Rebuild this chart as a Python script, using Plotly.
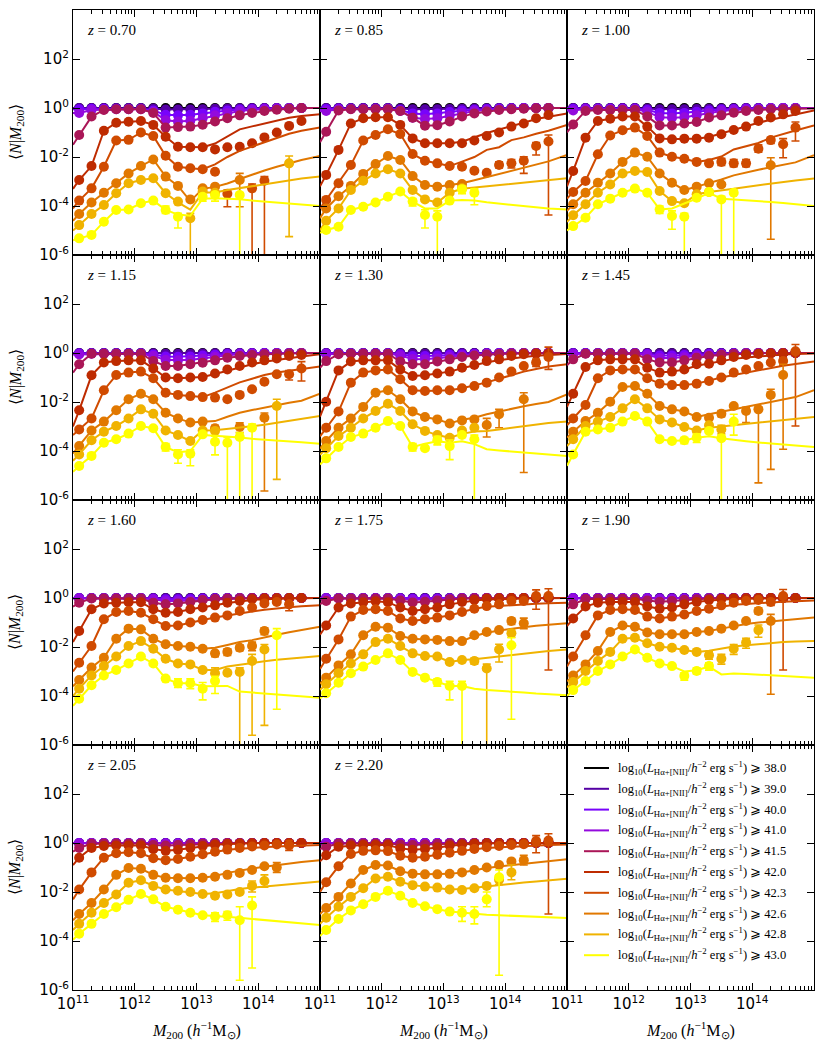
import plotly.graph_objects as go
from plotly.subplots import make_subplots

# ---------------- data (log10 <N|M200>) ----------------
GRID = [11.1, 11.3, 11.5, 11.7, 11.9, 12.1, 12.3, 12.5, 12.7, 12.9, 13.1, 13.3, 13.5, 13.7, 13.9, 14.1, 14.3, 14.5, 14.7]
LINE_LEFT = 11.0
LINE_RIGHT = 15.0
THRESH = ["38.0", "39.0", "40.0", "41.0", "41.5", "42.0", "42.3", "42.6", "42.8", "43.0"]
COLORS = ["#000000", "#5500a4", "#7803fb", "#930add", "#aa1657", "#be2b00", "#d04b00", "#e17800", "#f0b300", "#ffff00"]
REDSHIFTS = ["0.70", "0.85", "1.00", "1.15", "1.30", "1.45", "1.60", "1.75", "1.90", "2.05", "2.20"]
BLACK = [0, 0, 0, 0, 0, 0, 0, 0, 0, 0, 0, 0, 0, 0, 0, 0, 0, 0, 0]
N = None

P070 = {
    1: [0, 0, 0, 0, 0, 0, -0.02, -0.06, -0.06, -0.06, -0.05, -0.03, -0.02, -0.01, 0, 0, 0, 0, 0],
    2: [-0.05, -0.03, -0.03, -0.03, -0.03, -0.03, -0.1, -0.28, -0.3, -0.28, -0.22, -0.15, -0.1, -0.06, -0.04, -0.02, -0.01, 0, 0],
    3: [-0.2, -0.08, -0.06, -0.05, -0.05, -0.05, -0.15, -0.5, -0.55, -0.52, -0.42, -0.3, -0.2, -0.12, -0.07, -0.04, -0.02, -0.01, 0],
    4: [-1.1, -0.35, -0.08, -0.05, -0.05, -0.05, -0.2, -0.8, -0.78, -0.76, -0.68, -0.55, -0.42, -0.3, -0.2, -0.12, -0.07, -0.03, 0.0],
    5: [-2.94, -2.37, -0.93, -0.6, -0.56, -0.53, -0.69, -1.17, -1.58, -1.6, -1.6, -1.69, -1.6, -1.58, -1.44, -1.2, -1.0, -0.73, -0.53],
    6: [-3.78, -3.28, -2.4, -1.33, -1.3, -1.0, -1.14, -1.95, -2.4, -2.46, -2.5, -2.6, -3.5, N, -3.28, -2.97, N, N, N],
    7: [-4.33, -3.86, -3.46, -3.07, -2.67, -2.37, -2.1, -2.8, -3.18, -3.73, -3.28, -3.21, N, -2.94, N, N, N, N, N],
    8: [-4.78, -4.33, -3.96, -3.48, -3.07, -2.94, -2.87, -3.48, -3.82, -4.5, -3.41, -3.46, N, N, N, N, N, -2.26, N],
    9: [-5.32, -5.18, -4.64, -4.16, -4.14, -3.89, -3.78, -4.16, -4.44, N, -3.62, -3.55, N, -3.55, N, N, N, N, N],
}
L070 = {
    4: (-1.5, [-0.78, -0.76, -0.68, -0.55, -0.42, -0.3, -0.2, -0.12, -0.07, -0.03, 0.0, 0.0]),
    5: (-3.3, [-1.58, -1.6, -1.6, -1.45, -1.15, -0.87, -0.75, -0.63, -0.5, -0.4, -0.33, -0.26]),
    6: (-4.1, [-2.4, -2.46, -2.5, -2.3, -2.0, -1.75, -1.57, -1.4, -1.22, -1.05, -0.93, -0.8]),
    7: (-4.6, [-3.18, -3.8, -3.3, -3.22, -3.08, -2.9, -2.72, -2.55, -2.4, -2.25, -2.12, -1.96]),
    8: (-5.0, [-3.85, -4.15, -3.45, -3.45, -3.35, -3.27, -3.2, -3.12, -3.04, -2.96, -2.88, -2.8]),
    9: (-5.4, [-4.35, -4.4, -3.7, -3.68, -3.7, -3.72, -3.78, -3.82, -3.86, -3.9, -3.94, -4.0]),
}
E070 = {(6, 12): (-4.03, -3.35), (6, 14): (-7, -3.1), (6, 15): (-7, -2.8), (7, 13): (-4.03, -2.67),
        (8, 9): (-7, -4.3), (8, 17): (-5.25, -1.96), (9, 7): (-4.3, -4.0), (9, 8): (-4.9, -4.3),
        (9, 10): (-3.8, -3.5), (9, 11): (-3.8, -3.45), (9, 13): (-7, -3.45)}

P085 = {
    1: [0, 0, 0, 0, 0, 0, -0.02, -0.05, -0.05, -0.05, -0.04, -0.03, -0.02, -0.01, 0, 0, 0, 0, 0],
    2: [-0.04, -0.02, -0.02, -0.02, -0.02, -0.02, -0.08, -0.22, -0.25, -0.22, -0.16, -0.1, -0.07, -0.04, -0.02, -0.01, 0, 0, 0],
    3: [-0.12, -0.05, -0.04, -0.04, -0.04, -0.04, -0.12, -0.4, -0.45, -0.42, -0.32, -0.2, -0.12, -0.08, -0.05, -0.03, -0.01, 0, 0],
    4: [-0.97, -0.1, -0.05, -0.05, -0.05, -0.05, -0.12, -0.4, -0.72, -0.7, -0.55, -0.35, -0.22, -0.14, -0.08, -0.05, -0.03, -0.01, 0],
    5: [-2.73, -1.71, -0.63, -0.42, -0.38, -0.38, -0.69, -1.24, -1.44, -1.44, -1.44, -1.44, -1.33, -1.14, -1.0, -0.76, -0.63, -0.42, -0.29],
    6: [-3.75, -3.07, -2.33, -1.33, -1.1, -0.87, -1.06, -1.88, -2.15, -2.26, -2.37, -2.4, -2.56, -2.64, -2.33, -2.26, -2.15, -1.55, -1.37],
    7: [-4.1, -3.6, -3.18, -2.69, -2.29, -1.96, -2.12, -2.78, -3.14, -3.21, -3.14, -3.1, N, N, N, N, N, N, N],
    8: [-4.6, -4.1, -3.35, -2.97, -2.67, -2.5, -2.67, -3.35, -3.73, -3.86, -3.46, -3.28, N, N, N, N, N, N, N],
    9: [-4.98, -4.85, -4.16, -4.03, -3.86, -3.62, -3.41, -3.82, -4.37, -4.44, -3.78, -3.32, -3.46, N, N, N, N, N, N],
}
L085 = {
    4: (-1.4, [-0.72, -0.7, -0.55, -0.35, -0.22, -0.14, -0.08, -0.05, -0.03, -0.01, 0, 0]),
    5: (-3.2, [-1.44, -1.44, -1.44, -1.38, -1.2, -1.02, -0.88, -0.75, -0.6, -0.45, -0.35, -0.22]),
    6: (-4.1, [-2.15, -2.26, -2.37, -2.19, -2.0, -1.71, -1.6, -1.31, -1.2, -1.05, -0.93, -0.69]),
    7: (-4.5, [-3.14, -3.21, -3.14, -3.07, -2.95, -2.82, -2.7, -2.55, -2.42, -2.3, -2.18, -1.92]),
    8: (-5.0, [-3.73, -3.86, -3.46, -3.3, -3.25, -3.2, -3.15, -3.1, -3.05, -3.0, -2.95, -2.87]),
    9: (-5.1, [-4.1, -4.1, -3.78, -3.75, -3.78, -3.85, -3.9, -3.95, -4.0, -4.05, -4.1, -4.14]),
}
E085 = {(6, 14): (-2.45, -2.2), (6, 15): (-2.45, -2.1), (6, 16): (-2.67, -1.99), (6, 17): (-1.92, -1.41),
        (6, 18): (-4.37, -1.1), (9, 7): (-4.0, -3.7), (9, 8): (-4.9, -4.15), (9, 9): (-7, -4.2),
        (9, 11): (-3.5, -3.2), (9, 12): (-3.95, -3.3)}

P100 = {
    1: [0, 0, 0, 0, 0, 0, -0.02, -0.05, -0.05, -0.05, -0.04, -0.03, -0.02, -0.01, 0, 0, 0, 0, 0],
    2: [-0.03, -0.02, -0.02, -0.02, -0.02, -0.02, -0.08, -0.2, -0.22, -0.2, -0.15, -0.1, -0.06, -0.04, -0.02, -0.01, 0, 0, 0],
    3: [-0.1, -0.04, -0.04, -0.04, -0.04, -0.04, -0.15, -0.38, -0.4, -0.38, -0.3, -0.2, -0.12, -0.08, -0.05, -0.03, -0.01, 0, 0],
    4: [-0.67, -0.12, -0.08, -0.08, -0.08, -0.08, -0.35, -0.71, -0.71, -0.63, -0.57, -0.39, -0.3, -0.19, -0.12, -0.08, -0.05, -0.05, -0.03],
    5: [-2.57, -1.21, -0.53, -0.44, -0.35, -0.35, -0.76, -1.24, -1.28, -1.25, -1.25, -1.21, -1.07, -0.9, -0.76, -0.53, -0.39, -0.26, -0.12],
    6: [-3.43, -2.98, -1.89, -1.12, -0.91, -0.8, -1.14, -1.82, -1.99, -2.07, -2.2, -2.26, -2.2, -2.26, -2.26, -1.66, -1.31, -1.48, -0.8],
    7: [-3.93, -3.46, -3.05, -2.67, -2.2, -1.82, -1.99, -2.67, -3.05, -3.35, -3.21, -3.07, -3.12, N, N, N, -2.34, N, N],
    8: [-4.38, -3.93, -3.46, -3.12, -2.67, -2.57, -2.61, -3.39, -3.8, -3.89, -3.52, -3.43, N, N, N, N, N, N, N],
    9: [-4.82, -4.48, -3.93, -3.7, -3.46, -3.29, -3.46, -4.14, -4.41, -4.44, -3.66, -3.43, -3.73, -3.46, N, N, N, N, N],
}
L100 = {
    4: (-1.0, [-0.71, -0.63, -0.57, -0.39, -0.3, -0.19, -0.12, -0.08, -0.05, -0.04, -0.03, -0.02]),
    5: (-3.2, [-1.28, -1.25, -1.25, -1.18, -1.03, -0.88, -0.74, -0.6, -0.48, -0.37, -0.28, -0.1]),
    6: (-3.7, [-1.99, -2.07, -2.2, -2.12, -1.98, -1.69, -1.56, -1.43, -1.21, -1.05, -0.92, -0.71]),
    7: (-4.2, [-3.05, -3.35, -3.21, -3.07, -2.92, -2.75, -2.62, -2.52, -2.42, -2.32, -2.22, -1.93]),
    8: (-4.65, [-3.8, -3.89, -3.52, -3.43, -3.38, -3.3, -3.22, -3.15, -3.08, -3.02, -2.96, -2.88]),
    9: (-5.0, [-4.1, -3.9, -3.7, -3.46, -3.7, -3.73, -3.76, -3.8, -3.84, -3.88, -3.92, -4.0]),
}
E100 = {(6, 12): (-2.35, -2.05), (6, 13): (-2.4, -2.1), (6, 14): (-2.4, -2.1), (6, 15): (-1.8, -1.5),
        (6, 16): (-1.45, -1.2), (6, 17): (-2.03, -1.25), (6, 18): (-1.35, -0.57), (7, 16): (-5.36, -2.03),
        (9, 7): (-4.3, -4.0), (9, 8): (-4.95, -4.2), (9, 9): (-7, -4.3), (9, 12): (-7, -3.6), (9, 13): (-7, -3.35)}

P115 = {
    1: [0, 0, 0, 0, 0, 0, -0.01, -0.03, -0.03, -0.03, -0.02, -0.01, 0, 0, 0, 0, 0, 0, 0],
    2: [-0.02, -0.01, -0.01, -0.01, -0.01, -0.01, -0.06, -0.14, -0.15, -0.14, -0.1, -0.07, -0.04, -0.02, -0.01, 0, 0, 0, 0],
    3: [-0.06, -0.03, -0.03, -0.03, -0.03, -0.03, -0.12, -0.28, -0.3, -0.28, -0.22, -0.15, -0.09, -0.05, -0.03, -0.02, -0.01, 0, 0],
    4: [-0.46, -0.03, -0.03, -0.03, -0.03, -0.03, -0.33, -0.53, -0.53, -0.46, -0.4, -0.3, -0.19, -0.12, -0.08, -0.05, -0.03, -0.02, -0.01],
    5: [-2.34, -0.91, -0.39, -0.33, -0.3, -0.3, -0.63, -1.0, -1.03, -1.0, -0.98, -0.84, -0.67, -0.53, -0.39, -0.3, -0.22, -0.12, -0.08],
    6: [-3.12, -2.67, -1.52, -0.9, -0.8, -0.76, -1.03, -1.62, -1.71, -1.76, -1.8, -1.82, -1.89, -1.71, -1.48, -1.17, -0.87, -0.87, -0.63],
    7: [-3.8, -3.16, -2.8, -2.34, -1.89, -1.66, -1.89, -2.44, -2.67, -2.84, -2.8, -3.07, N, -3.02, N, -2.64, N, N, N],
    8: [-4.14, -3.56, -3.21, -2.98, -2.67, -2.3, -2.48, -3.16, -3.35, -3.59, -3.16, -3.18, N, N, N, N, -2.16, N, N],
    9: [-4.61, -4.2, -3.66, -3.52, -3.29, -2.98, -3.07, -3.84, -4.14, -4.11, -3.32, -3.62, -3.66, -3.43, -3.05, N, N, N, N],
}
L115 = {
    4: (-0.8, [-0.53, -0.46, -0.4, -0.3, -0.19, -0.12, -0.08, -0.05, -0.03, -0.02, -0.01, 0]),
    5: (-3.0, [-1.03, -1.0, -0.98, -0.86, -0.72, -0.58, -0.46, -0.36, -0.28, -0.2, -0.14, -0.05]),
    6: (-3.35, [-1.71, -1.76, -1.8, -1.62, -1.4, -1.2, -1.05, -0.9, -0.8, -0.72, -0.65, -0.55]),
    7: (-4.1, [-2.67, -2.84, -2.8, -2.78, -2.6, -2.44, -2.33, -2.22, -2.12, -2.03, -1.95, -1.66]),
    8: (-4.4, [-3.35, -3.59, -3.16, -3.15, -3.1, -3.05, -3.0, -2.93, -2.85, -2.77, -2.7, -2.57]),
    9: (-4.85, [-4.05, -4.0, -3.35, -3.38, -3.4, -3.45, -3.5, -3.53, -3.57, -3.6, -3.64, -3.7]),
}
E115 = {(6, 17): (-1.1, -0.72), (6, 18): (-1.14, -0.35), (7, 11): (-3.2, -2.95), (7, 13): (-3.25, -2.85),
        (7, 15): (-5.63, -2.45), (8, 16): (-5.16, -1.89), (9, 7): (-4.0, -3.7), (9, 8): (-4.5, -3.95),
        (9, 9): (-4.6, -3.95), (9, 11): (-4.16, -3.4), (9, 12): (-7, -3.45), (9, 13): (-7, -3.25), (9, 14): (-7, -2.9)}

P130 = {
    1: [0, 0, 0, 0, 0, 0, -0.01, -0.02, -0.02, -0.02, -0.01, 0, 0, 0, 0, 0, 0, 0, 0],
    2: [-0.02, -0.01, -0.01, -0.01, -0.01, -0.01, -0.05, -0.12, -0.12, -0.1, -0.07, -0.05, -0.03, -0.01, 0, 0, 0, 0, 0],
    3: [-0.05, -0.02, -0.02, -0.02, -0.02, -0.02, -0.1, -0.24, -0.25, -0.22, -0.16, -0.1, -0.06, -0.03, -0.02, -0.01, 0, 0, 0],
    4: [-0.33, -0.05, -0.03, -0.03, -0.03, -0.03, -0.35, -0.46, -0.46, -0.35, -0.26, -0.16, -0.1, -0.06, -0.04, -0.02, -0.01, 0, 0],
    5: [-1.99, -0.71, -0.35, -0.3, -0.3, -0.3, -0.67, -0.94, -0.91, -0.84, -0.76, -0.6, -0.49, -0.33, -0.26, -0.12, -0.05, -0.03, -0.03],
    6: [-3.05, -2.39, -1.21, -0.8, -0.71, -0.67, -1.07, -1.52, -1.55, -1.52, -1.52, -1.44, -1.35, -1.21, -1.0, -0.76, -0.53, -0.39, -0.16],
    7: [-3.59, -3.05, -2.67, -2.2, -1.62, -1.52, -1.89, -2.39, -2.61, -2.71, -2.88, -2.75, -2.71, -2.94, -2.5, N, -1.89, N, N],
    8: [-3.89, -3.39, -3.05, -2.67, -2.37, -2.07, -2.37, -2.91, -3.18, -3.35, -3.46, -3.16, -3.05, N, N, N, N, N, N],
    9: [-4.3, -3.84, -3.43, -3.29, -3.05, -2.78, -2.98, -3.84, -3.89, -3.56, -3.8, -3.35, -3.52, N, N, N, N, N, N],
}
L130 = {
    4: (-0.6, [-0.46, -0.35, -0.26, -0.16, -0.1, -0.06, -0.04, -0.02, -0.01, 0, 0, 0]),
    5: (-2.6, [-0.91, -0.84, -0.76, -0.62, -0.5, -0.38, -0.3, -0.22, -0.16, -0.11, -0.08, -0.04]),
    6: (-3.4, [-1.55, -1.52, -1.52, -1.44, -1.33, -1.2, -1.05, -0.9, -0.76, -0.65, -0.55, -0.46]),
    7: (-3.9, [-2.61, -2.71, -2.88, -2.72, -2.64, -2.5, -2.38, -2.27, -2.17, -2.08, -2.0, -1.69]),
    8: (-4.15, [-3.18, -3.35, -3.46, -3.3, -3.2, -3.18, -3.12, -3.05, -2.98, -2.92, -2.86, -2.8]),
    9: (-4.55, [-3.7, -3.6, -3.66, -3.6, -3.72, -3.93, -3.98, -4.03, -4.07, -4.1, -4.14, -4.2]),
}
E130 = {(6, 17): (-0.55, -0.25), (6, 18): (-0.67, 0.24), (7, 13): (-3.43, -2.67), (7, 14): (-3.05, -2.3),
        (7, 16): (-4.88, -1.62), (9, 7): (-4.0, -3.7), (9, 9): (-3.75, -3.4), (9, 10): (-4.35, -3.55),
        (9, 12): (-7, -3.35)}

P145 = {
    1: [0, 0, 0, 0, 0, 0, 0, -0.01, -0.01, -0.01, 0, 0, 0, 0, 0, 0, 0, 0, 0],
    2: [-0.01, 0, 0, 0, 0, 0, -0.04, -0.1, -0.1, -0.08, -0.05, -0.03, -0.02, -0.01, 0, 0, 0, 0, 0],
    3: [-0.04, -0.02, -0.02, -0.02, -0.02, -0.02, -0.08, -0.2, -0.2, -0.17, -0.12, -0.07, -0.04, -0.02, -0.01, 0, 0, 0, 0],
    4: [-0.26, -0.03, -0.02, -0.02, -0.02, -0.02, -0.26, -0.39, -0.39, -0.3, -0.19, -0.12, -0.07, -0.04, -0.02, -0.01, 0, 0, 0],
    5: [-1.66, -0.57, -0.3, -0.26, -0.26, -0.26, -0.6, -0.8, -0.76, -0.67, -0.46, -0.44, -0.3, -0.16, -0.08, -0.04, -0.02, -0.01, 0],
    6: [-2.67, -2.12, -1.03, -0.71, -0.67, -0.67, -1.03, -1.25, -1.31, -1.31, -1.25, -1.14, -1.0, -0.8, -0.67, -0.53, -0.39, -0.33, 0.07],
    7: [-3.21, -2.78, -2.44, -1.99, -1.39, -1.35, -1.66, -2.16, -2.3, -2.39, -2.61, -2.64, -2.48, -2.16, -2.37, -2.3, -1.71, -0.9, N],
    8: [-3.52, -2.98, -2.8, -2.61, -2.26, -1.89, -2.26, -2.71, -2.84, -3.02, -3.16, -2.95, -3.12, N, N, N, N, N, N],
    9: [-4.14, -3.21, -3.12, -3.05, -2.8, -2.57, -2.8, -3.52, -3.59, -3.56, -3.46, -3.18, -3.48, -2.8, N, N, N, N, N],
}
L145 = {
    4: (-0.5, [-0.39, -0.3, -0.19, -0.12, -0.07, -0.04, -0.02, -0.01, 0, 0, 0, 0]),
    5: (-2.2, [-0.76, -0.67, -0.52, -0.42, -0.32, -0.24, -0.18, -0.13, -0.09, -0.06, -0.04, -0.02]),
    6: (-2.95, [-1.31, -1.31, -1.25, -1.12, -1.0, -0.9, -0.8, -0.7, -0.6, -0.52, -0.45, -0.35]),
    7: (-3.45, [-2.3, -2.39, -2.61, -2.5, -2.4, -2.3, -2.2, -2.1, -2.0, -1.9, -1.8, -1.52]),
    8: (-3.8, [-2.84, -3.02, -3.16, -3.05, -3.0, -2.95, -2.9, -2.84, -2.78, -2.72, -2.67, -2.61]),
    9: (-4.6, [-3.59, -3.56, -3.46, -3.4, -3.48, -3.55, -3.6, -3.65, -3.7, -3.74, -3.78, -3.84]),
}
E145 = {(6, 17): (-0.5, -0.2), (6, 18): (-2.98, 0.35), (7, 12): (-2.6, -2.35), (7, 14): (-2.84, -2.22),
        (7, 15): (-5.3, -2.2), (7, 16): (-4.75, -1.48), (7, 17): (-3.93, -0.46), (8, 12): (-3.3, -2.95),
        (9, 9): (-3.7, -3.45), (9, 10): (-3.65, -3.3), (9, 12): (-7, -3.35), (9, 13): (-3.35, -2.5)}

P160 = {
    1: [0, 0, 0, 0, 0, 0, 0, 0, 0, 0, 0, 0, 0, 0, 0, 0, 0, 0, 0],
    2: [0, 0, 0, 0, 0, 0, -0.02, -0.05, -0.05, -0.04, -0.02, -0.01, 0, 0, 0, 0, 0, 0, 0],
    3: [-0.02, -0.01, -0.01, -0.01, -0.01, -0.01, -0.05, -0.12, -0.12, -0.1, -0.06, -0.03, -0.02, -0.01, 0, 0, 0, 0, 0],
    4: [-0.19, -0.02, -0.02, -0.02, -0.02, -0.02, -0.19, -0.26, -0.22, -0.16, -0.08, -0.04, -0.02, -0.01, 0, 0, 0, 0, 0],
    5: [-1.35, -0.46, -0.22, -0.19, -0.17, -0.17, -0.46, -0.6, -0.57, -0.46, -0.39, -0.3, -0.19, -0.12, -0.05, -0.02, -0.01, 0, 0],
    6: [-2.64, -1.96, -0.87, -0.57, -0.53, -0.6, -0.87, -1.14, -1.12, -1.0, -0.9, -0.8, -0.71, -0.53, -0.39, -0.22, -0.16, -0.26, N],
    7: [-3.35, -2.84, -2.44, -1.66, -1.25, -1.28, -1.66, -1.89, -1.96, -1.99, -2.07, -2.26, -2.2, -2.03, -1.96, -1.35, N, N, N],
    8: [-3.7, -3.16, -2.78, -2.39, -1.96, -1.76, -2.07, -2.48, -2.67, -2.71, -2.94, -3.07, -3.05, -3.02, -2.57, -2.1, N, N, N],
    9: [-4.11, -3.56, -3.16, -2.94, -2.67, -2.39, -2.67, -3.29, -3.48, -3.48, -3.7, -3.39, N, N, N, N, -1.52, N, N],
}
L160 = {
    4: (-0.35, [-0.22, -0.16, -0.08, -0.04, -0.02, -0.01, 0, 0, 0, 0, 0, 0]),
    5: (-1.8, [-0.57, -0.46, -0.39, -0.3, -0.2, -0.13, -0.08, -0.05, -0.03, -0.02, -0.01, 0]),
    6: (-3.0, [-1.12, -1.0, -0.9, -0.8, -0.71, -0.62, -0.55, -0.48, -0.42, -0.38, -0.34, -0.3]),
    7: (-3.6, [-1.96, -1.99, -2.07, -2.03, -1.92, -1.8, -1.72, -1.6, -1.5, -1.4, -1.3, -1.17]),
    8: (-4.0, [-2.67, -2.71, -2.94, -2.94, -2.8, -2.72, -2.65, -2.58, -2.52, -2.47, -2.42, -2.37]),
    9: (-4.4, [-3.48, -3.48, -3.6, -3.59, -3.59, -3.82, -3.86, -3.9, -3.94, -3.98, -4.02, -4.07]),
}
E160 = {(6, 17): (-0.52, -0.15), (7, 11): (-2.4, -2.15), (7, 12): (-2.35, -2.08), (7, 13): (-2.15, -1.92),
        (7, 14): (-2.15, -1.8), (7, 15): (-1.5, -1.22), (8, 11): (-3.3, -2.85), (8, 13): (-7, -2.85),
        (8, 14): (-5.6, -2.3), (8, 15): (-5.2, -1.9), (9, 8): (-3.65, -3.3), (9, 9): (-3.7, -3.3),
        (9, 10): (-4.16, -3.45), (9, 11): (-3.9, -3.2), (9, 16): (-4.54, -1.25)}

P175 = {
    1: [0, 0, 0, 0, 0, 0, 0, 0, 0, 0, 0, 0, 0, 0, 0, 0, 0, 0, 0],
    2: [0, 0, 0, 0, 0, 0, -0.01, -0.03, -0.03, -0.02, -0.01, 0, 0, 0, 0, 0, 0, 0, 0],
    3: [-0.02, -0.01, -0.01, -0.01, -0.01, -0.01, -0.03, -0.07, -0.07, -0.05, -0.03, -0.01, 0, 0, 0, 0, 0, 0, 0],
    4: [-0.12, -0.02, -0.02, -0.02, -0.02, -0.02, -0.1, -0.18, -0.15, -0.1, -0.05, -0.02, -0.01, 0, 0, 0, 0, 0, 0],
    5: [-1.12, -0.39, -0.22, -0.17, -0.13, -0.17, -0.39, -0.53, -0.46, -0.39, -0.26, -0.16, -0.08, -0.03, -0.01, 0, 0, 0, 0],
    6: [-2.48, -1.69, -0.76, -0.49, -0.46, -0.53, -0.84, -0.94, -0.87, -0.8, -0.71, -0.57, -0.44, -0.33, -0.26, -0.12, -0.12, 0.08, 0.08],
    7: [-3.25, -2.75, -2.3, -1.52, -1.17, -1.21, -1.55, -1.66, -1.69, -1.71, -1.76, -1.76, -1.52, -1.39, -1.31, -0.94, -1.03, N, N],
    8: [-3.52, -3.07, -2.67, -2.3, -1.8, -1.66, -1.96, -2.26, -2.37, -2.39, -2.61, -2.53, -2.57, -2.88, -2.1, -1.44, N, N, N],
    9: [-3.89, -3.46, -3.07, -2.8, -2.53, -2.26, -2.53, -3.02, -3.25, -3.43, -3.59, -3.59, N, N, N, -1.93, N, N, N],
}
L175 = {
    4: (-0.25, [-0.15, -0.1, -0.05, -0.02, -0.01, 0, 0, 0, 0, 0, 0, 0]),
    5: (-1.5, [-0.46, -0.39, -0.26, -0.17, -0.1, -0.06, -0.04, -0.03, -0.02, -0.01, -0.01, 0]),
    6: (-2.9, [-0.87, -0.8, -0.71, -0.57, -0.44, -0.36, -0.32, -0.28, -0.25, -0.23, -0.21, -0.19]),
    7: (-3.5, [-1.69, -1.71, -1.76, -1.76, -1.55, -1.42, -1.33, -1.25, -1.19, -1.13, -1.08, -1.03]),
    8: (-3.75, [-2.37, -2.39, -2.61, -2.53, -2.5, -2.44, -2.38, -2.32, -2.26, -2.21, -2.16, -2.1]),
    9: (-4.1, [-3.25, -3.43, -3.59, -3.59, -3.7, -3.75, -3.78, -3.82, -3.86, -3.9, -3.93, -3.97]),
}
E175 = {(6, 17): (-0.46, 0.33), (6, 18): (-2.94, 0.38), (7, 15): (-1.08, -0.82), (7, 16): (-1.25, -0.82),
        (8, 12): (-2.7, -2.45), (8, 13): (-7, -2.7), (8, 14): (-2.61, -1.89), (8, 15): (-1.6, -1.3),
        (9, 9): (-3.6, -3.3), (9, 10): (-4.16, -3.4), (9, 11): (-7, -3.4), (9, 15): (-4.95, -1.62)}

P190 = {
    1: [0, 0, 0, 0, 0, 0, 0, 0, 0, 0, 0, 0, 0, 0, 0, 0, 0, 0, 0],
    2: [0, 0, 0, 0, 0, 0, 0, -0.02, -0.02, -0.01, 0, 0, 0, 0, 0, 0, 0, 0, 0],
    3: [-0.02, -0.01, -0.01, -0.01, -0.01, -0.01, -0.02, -0.04, -0.04, -0.03, -0.02, -0.01, 0, 0, 0, 0, 0, 0, 0],
    4: [-0.26, -0.04, -0.03, -0.03, -0.03, -0.03, -0.1, -0.15, -0.12, -0.08, -0.05, -0.02, -0.01, 0, 0, 0, 0, 0, 0],
    5: [-0.84, -0.35, -0.19, -0.16, -0.16, -0.16, -0.35, -0.44, -0.39, -0.26, -0.16, -0.08, -0.04, -0.02, -0.01, 0, 0, 0, 0],
    6: [-2.39, -1.52, -0.71, -0.49, -0.46, -0.49, -0.76, -0.84, -0.76, -0.67, -0.53, -0.44, -0.3, -0.19, -0.12, -0.08, -0.16, 0.08, N],
    7: [-3.16, -2.71, -2.16, -1.39, -1.12, -1.17, -1.41, -1.48, -1.48, -1.48, -1.39, -1.35, -1.25, -1.12, -0.94, -0.53, -0.94, N, N],
    8: [-3.43, -2.98, -2.57, -2.2, -1.66, -1.62, -1.85, -1.99, -2.03, -2.12, -2.2, -2.34, -2.48, -2.07, -1.82, -1.31, N, N, N],
    9: [-3.76, -3.39, -2.98, -2.71, -2.39, -2.1, -2.44, -2.67, -2.78, -3.18, -2.98, -2.78, N, N, N, N, N, N, N],
}
L190 = {
    4: (-0.45, [-0.12, -0.08, -0.05, -0.02, -0.01, 0, 0, 0, 0, 0, 0, 0]),
    5: (-1.15, [-0.39, -0.26, -0.16, -0.1, -0.06, -0.04, -0.03, -0.02, -0.01, -0.01, 0, 0]),
    6: (-2.8, [-0.76, -0.67, -0.53, -0.44, -0.34, -0.28, -0.24, -0.2, -0.17, -0.15, -0.13, -0.1]),
    7: (-3.4, [-1.48, -1.48, -1.39, -1.35, -1.25, -1.14, -1.06, -1.0, -0.95, -0.9, -0.86, -0.8]),
    8: (-3.65, [-2.03, -2.12, -2.2, -2.15, -2.05, -1.98, -1.93, -1.88, -1.84, -1.8, -1.78, -1.76]),
    9: (-4.0, [-2.78, -3.0, -2.95, -2.8, -3.12, -3.08, -3.1, -3.13, -3.16, -3.19, -3.22, -3.25]),
}
E190 = {(6, 16): (-0.3, -0.05), (6, 17): (-2.94, 0.35), (7, 15): (-0.65, -0.4), (7, 16): (-3.93, -0.67),
        (8, 11): (-2.5, -2.2), (8, 12): (-2.7, -2.3), (8, 13): (-2.3, -1.9), (8, 14): (-2.05, -1.65),
        (8, 15): (-1.6, -1.1), (9, 9): (-3.35, -3.05), (9, 10): (-3.1, -2.85), (9, 11): (-2.95, -2.65)}

P205 = {
    1: [0, 0, 0, 0, 0, 0, 0, 0, 0, 0, 0, 0, 0, 0, 0, 0, 0, 0, 0],
    2: [0, 0, 0, 0, 0, 0, 0, -0.01, -0.01, 0, 0, 0, 0, 0, 0, 0, 0, 0, 0],
    3: [-0.01, 0, 0, 0, 0, 0, -0.01, -0.02, -0.02, -0.01, 0, 0, 0, 0, 0, 0, 0, 0, 0],
    4: [-0.2, -0.03, -0.02, -0.02, -0.02, -0.02, -0.08, -0.1, -0.08, -0.05, -0.03, -0.01, 0, 0, 0, 0, 0, 0, 0],
    5: [-0.6, -0.2, -0.12, -0.1, -0.1, -0.1, -0.25, -0.32, -0.28, -0.2, -0.12, -0.07, -0.04, -0.02, -0.01, 0, 0, 0, 0],
    6: [-1.9, -1.2, -0.6, -0.42, -0.38, -0.42, -0.62, -0.7, -0.65, -0.56, -0.46, -0.36, -0.27, -0.2, -0.14, -0.1, -0.06, -0.1, N],
    7: [-2.9, -2.45, -1.9, -1.3, -1.02, -1.05, -1.3, -1.42, -1.44, -1.44, -1.42, -1.38, -1.3, -1.22, -1.1, -0.95, -1.0, N, N],
    8: [-3.3, -2.85, -2.45, -2.1, -1.62, -1.52, -1.75, -1.9, -1.95, -2.0, -2.08, -2.15, -2.1, -2.0, -1.75, -1.55, N, N, N],
    9: [-3.7, -3.3, -2.9, -2.62, -2.32, -2.08, -2.3, -2.6, -2.72, -2.85, -2.95, -3.0, -2.95, -3.15, -2.55, N, N, N, N],
}
L205 = {
    4: (-0.35, [-0.08, -0.05, -0.03, -0.01, 0, 0, 0, 0, 0, 0, 0, 0]),
    5: (-0.9, [-0.28, -0.2, -0.12, -0.07, -0.04, -0.02, -0.01, 0, 0, 0, 0, 0]),
    6: (-2.3, [-0.65, -0.56, -0.46, -0.36, -0.28, -0.23, -0.19, -0.16, -0.14, -0.12, -0.1, -0.08]),
    7: (-3.15, [-1.44, -1.44, -1.42, -1.35, -1.22, -1.12, -1.04, -0.97, -0.9, -0.84, -0.78, -0.7]),
    8: (-3.55, [-1.95, -2.0, -2.08, -2.05, -1.95, -1.88, -1.82, -1.77, -1.72, -1.67, -1.63, -1.57]),
    9: (-3.95, [-2.72, -2.85, -2.95, -2.98, -3.0, -3.05, -3.1, -3.14, -3.18, -3.22, -3.27, -3.35]),
}
E205 = {(6, 17): (-0.3, 0.1), (7, 16): (-1.2, -0.8), (8, 14): (-2.0, -1.55), (8, 15): (-1.8, -1.3),
        (9, 11): (-3.2, -2.85), (9, 12): (-3.15, -2.8), (9, 13): (-5.6, -2.6), (9, 14): (-5.1, -2.2)}

P220 = {
    1: [0, 0, 0, 0, 0, 0, 0, 0, 0, 0, 0, 0, 0, 0, 0, 0, 0, 0, 0],
    2: [0, 0, 0, 0, 0, 0, 0, 0, 0, 0, 0, 0, 0, 0, 0, 0, 0, 0, 0],
    3: [-0.01, 0, 0, 0, 0, 0, 0, -0.01, -0.01, 0, 0, 0, 0, 0, 0, 0, 0, 0, 0],
    4: [-0.15, -0.02, -0.02, -0.02, -0.02, -0.02, -0.06, -0.08, -0.06, -0.04, -0.02, -0.01, 0, 0, 0, 0, 0, 0, 0],
    5: [-0.5, -0.15, -0.1, -0.08, -0.08, -0.08, -0.22, -0.28, -0.24, -0.17, -0.1, -0.06, -0.03, -0.01, 0, 0, 0, 0, 0],
    6: [-1.6, -0.95, -0.45, -0.32, -0.3, -0.33, -0.52, -0.6, -0.56, -0.48, -0.4, -0.32, -0.24, -0.17, -0.12, -0.08, -0.05, 0.08, 0.1],
    7: [-2.65, -2.2, -1.65, -1.1, -0.9, -0.92, -1.15, -1.25, -1.28, -1.28, -1.26, -1.2, -1.1, -1.0, -0.9, -0.75, -0.7, N, N],
    8: [-3.05, -2.6, -2.2, -1.85, -1.45, -1.38, -1.58, -1.72, -1.78, -1.82, -1.9, -1.92, -1.85, -1.75, -1.5, -1.2, N, N, N],
    9: [-3.55, -3.1, -2.75, -2.5, -2.2, -1.95, -2.15, -2.45, -2.58, -2.7, -2.8, -2.85, -2.9, -2.3, -1.4, N, N, N, N],
}
L220 = {
    4: (-0.25, [-0.06, -0.04, -0.02, -0.01, 0, 0, 0, 0, 0, 0, 0, 0]),
    5: (-0.75, [-0.24, -0.17, -0.1, -0.06, -0.03, -0.01, 0, 0, 0, 0, 0, 0]),
    6: (-2.0, [-0.56, -0.48, -0.4, -0.32, -0.25, -0.2, -0.17, -0.14, -0.12, -0.1, -0.08, -0.06]),
    7: (-2.9, [-1.28, -1.28, -1.26, -1.2, -1.1, -1.02, -0.96, -0.9, -0.84, -0.79, -0.74, -0.66]),
    8: (-3.3, [-1.78, -1.82, -1.9, -1.88, -1.82, -1.76, -1.7, -1.65, -1.61, -1.57, -1.53, -1.46]),
    9: (-3.8, [-2.58, -2.7, -2.8, -2.85, -2.9, -2.93, -2.95, -2.97, -2.99, -3.01, -3.03, -3.06]),
}
E220 = {(6, 17): (-0.4, 0.3), (6, 18): (-2.9, 0.38), (7, 16): (-0.9, -0.5), (8, 14): (-1.7, -1.3),
        (8, 15): (-1.5, -0.9), (9, 11): (-3.2, -2.6), (9, 12): (-3.3, -2.6), (9, 13): (-2.6, -2.0),
        (9, 14): (-5.4, -1.1)}

PANELS = [(P070, L070, E070), (P085, L085, E085), (P100, L100, E100), (P115, L115, E115),
          (P130, L130, E130), (P145, L145, E145), (P160, L160, E160), (P175, L175, E175),
          (P190, L190, E190), (P205, L205, E205), (P220, L220, E220)]

# ---------------- figure ----------------
W, H = 822, 1047
ML, MR, MT, MB = 73, 8, 10, 57
PW, PH = W - ML - MR, H - MT - MB
fig = make_subplots(rows=4, cols=3, horizontal_spacing=0, vertical_spacing=0)

LX = [LINE_LEFT] + GRID + [LINE_RIGHT]
for p, (pts, lines, errs) in enumerate(PANELS):
    r, c = p // 3 + 1, p % 3 + 1
    for s in range(10):
        col = COLORS[s]
        y = BLACK if s == 0 else pts[s]
        if s >= 4:
            head, tail = lines[s]
            ly = [head] + y[:8] + tail
        else:
            ly = [y[0]] + y + [y[-1]]
        fig.add_trace(go.Scatter(x=[10 ** v for v in LX], y=[10 ** v for v in ly], mode="lines",
                                 line=dict(color=col, width=2), showlegend=False, hoverinfo="skip"),
                      row=r, col=c)
        px, py, ex, ey, ep, em = [], [], [], [], [], []
        for k, v in enumerate(y):
            if v is None:
                continue
            if (s, k) in errs:
                lo, hi = errs[(s, k)]
                ex.append(10 ** GRID[k]); ey.append(10 ** v)
                ep.append(10 ** hi - 10 ** v); em.append(10 ** v - 10 ** lo)
            else:
                px.append(10 ** GRID[k]); py.append(10 ** v)
        fig.add_trace(go.Scatter(x=px, y=py, mode="markers", marker=dict(color=col, size=10, line=dict(width=0)),
                                 showlegend=False, hoverinfo="skip"), row=r, col=c)
        if ex:
            fig.add_trace(go.Scatter(x=ex, y=ey, mode="markers", marker=dict(color=col, size=10, line=dict(width=0)),
                                     error_y=dict(type="data", symmetric=False, array=ep, arrayminus=em,
                                                  color=col, thickness=1.6, width=4),
                                     showlegend=False, hoverinfo="skip"), row=r, col=c)

# empty 12th panel (holds the legend) still needs its axes
fig.add_trace(go.Scatter(x=[None], y=[None], mode="markers", showlegend=False, hoverinfo="skip"), row=4, col=3)

XT = [1e11, 1e12, 1e13, 1e14]
XTT = ["10<sup>11</sup>", "10<sup>12</sup>", "10<sup>13</sup>", "10<sup>14</sup>"]
XMINOR = [m * 10 ** e for e in range(11, 15) for m in range(2, 10)]
YT = [1e-6, 1e-4, 1e-2, 1, 1e2]
YTT = ["10<sup>-6</sup>", "10<sup>-4</sup>", "10<sup>-2</sup>", "10<sup>0</sup>", "10<sup>2</sup>"]
TF = dict(family="DejaVu Sans", size=15, color="black")

fig.update_xaxes(type="log", range=[11, 15], tickmode="array", tickvals=XT, ticktext=XTT,
                 ticks="inside", ticklen=7, tickwidth=1, tickcolor="black",
                 showline=True, linecolor="black", linewidth=1.2, mirror="ticks",
                 showgrid=False, zeroline=False, showticklabels=False, tickfont=TF,
                 minor=dict(ticks="inside", ticklen=3.5, tickwidth=1, tickcolor="black",
                            tickmode="array", tickvals=XMINOR, showgrid=False))
fig.update_yaxes(type="log", range=[-6, 4], tickmode="array", tickvals=YT, ticktext=YTT,
                 ticks="inside", ticklen=7, tickwidth=1, tickcolor="black",
                 showline=True, linecolor="black", linewidth=1.2, mirror="ticks",
                 showgrid=False, zeroline=False, showticklabels=False, tickfont=TF)
for c in range(1, 4):
    fig.update_xaxes(showticklabels=True, row=4, col=c)
for r in range(1, 5):
    fig.update_yaxes(showticklabels=True, row=r, col=1)

SERIF = "Liberation Serif"
ann = []
for p, z in enumerate(REDSHIFTS):
    r, c = p // 3, p % 3
    ann.append(dict(xref="paper", yref="paper", x=(247 * c + 12) / PW, y=(PH - (245 * r + 20)) / PH,
                    xanchor="left", yanchor="middle", showarrow=False,
                    text="<i>z</i> = " + z, font=dict(family=SERIF, size=15, color="black")))
for r in range(4):
    ann.append(dict(xref="paper", yref="paper", x=-(ML - 16) / PW, y=(PH - (245 * r + 122)) / PH,
                    xanchor="center", yanchor="middle", showarrow=False, textangle=-90,
                    text="⟨<i>N</i>|<i>M</i><sub>200</sub>⟩", font=dict(family=SERIF, size=16, color="black")))
for c in range(3):
    ann.append(dict(xref="paper", yref="paper", x=(247 * (c + 0.5)) / PW, y=-(1030 - (MT + PH)) / PH,
                    xanchor="center", yanchor="middle", showarrow=False,
                    text="<i>M</i><sub>200</sub> (<i>h</i><sup>−1</sup>M<sub>⊙</sub>)",
                    font=dict(family=SERIF, size=16, color="black")))

shapes = []
for i, t in enumerate(THRESH):
    ypx = 768 + 20.8 * i - MT
    yy = (PH - ypx) / PH
    shapes.append(dict(type="line", xref="paper", yref="paper", x0=(584 - ML) / PW, x1=(609 - ML) / PW,
                       y0=yy, y1=yy, line=dict(color=COLORS[i], width=2)))
    ann.append(dict(xref="paper", yref="paper", x=(616 - ML) / PW, y=yy, xanchor="left", yanchor="middle",
                    showarrow=False,
                    text="log<sub>10</sub>(<i>L</i><sub>Hα+[NII]</sub>/<i>h</i><sup>−2</sup> erg s<sup>−1</sup>) ⩾ " + t,
                    font=dict(family=SERIF, size=12.5, color="black")))

fig.update_layout(width=W, height=H, margin=dict(l=ML, r=MR, t=MT, b=MB),
                  paper_bgcolor="white", plot_bgcolor="white", showlegend=False,
                  annotations=ann, shapes=shapes)
fig.write_html("out.html", config={"displayModeBar": False},
               post_script="document.body.style.margin='0px';document.body.style.padding='0px';")
